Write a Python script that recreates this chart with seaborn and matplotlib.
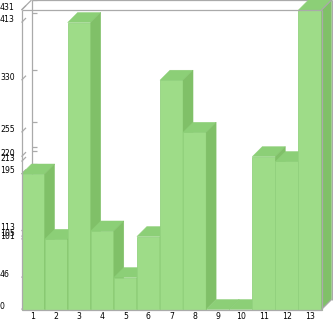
import matplotlib
matplotlib.use("Agg")
import matplotlib.pyplot as plt
import matplotlib.transforms as mtransforms
from matplotlib.patches import Polygon
import seaborn as sns
import pandas as pd

categories = ["1", "2", "3", "4", "5", "6", "7", "8", "9", "10", "11", "12", "13"]
values = [195, 101, 413, 113, 46, 105, 330, 255, 0, 0, 220, 213, 431]
ytick_values = [0, 46, 101, 105, 113, 195, 213, 220, 255, 330, 413, 431]

FRONT = "#9edc88"
TOP = "#8ccf77"
SIDE = "#80c068"
EDGE = "#93d27f"
FRAME = "#aaaaaa"

W, H = 333, 321
fig = plt.figure(figsize=(W / 100, H / 100), dpi=100)
fig.patch.set_facecolor("white")
ax = fig.add_axes([21.5 / W, 11.5 / H, 300 / W, 299.5 / H])

df = pd.DataFrame({"cat": categories, "val": values})
sns.barplot(data=df, x="cat", y="val", color=FRONT, saturation=1, width=1.0,
            edgecolor=EDGE, linewidth=0.6, ax=ax, zorder=3)
ax.set_xlim(-0.5, len(categories) - 0.5)
ax.set_ylim(0, max(ytick_values))
for s in ax.spines.values():
    s.set_visible(False)
ax.set_facecolor("none")
ax.set_xlabel("")
ax.set_ylabel("")
ax.set_yticks([])
ax.tick_params(axis="x", length=0, pad=1.8, labelsize=5.6, labelcolor="black")

# depth offset: 10 px right, 10 px up, expressed in data units
p0 = ax.transData.transform((0, 0))
p1 = ax.transData.inverted().transform((p0[0] + 10, p0[1] + 10))
ddx, ddy = p1[0], p1[1]

bars = list(ax.patches)
for i, b in enumerate(bars):
    x0 = b.get_x()
    x1 = x0 + b.get_width()
    h = b.get_height()
    z = 3 + i * 0.1
    b.set_zorder(z)
    b.set_clip_on(False)
    top = Polygon([(x0, h), (x1, h), (x1 + ddx, h + ddy), (x0 + ddx, h + ddy)],
                  closed=True, facecolor=TOP, edgecolor=TOP, linewidth=0.3,
                  zorder=z + 0.01, clip_on=False)
    side = Polygon([(x1, 0), (x1, h), (x1 + ddx, h + ddy), (x1 + ddx, ddy)],
                   closed=True, facecolor=SIDE, edgecolor=SIDE, linewidth=0.3,
                   zorder=z + 0.02, clip_on=False)
    ax.add_patch(top)
    ax.add_patch(side)

xa, xb = -0.5, len(categories) - 0.5
ya, yb = 0, max(ytick_values)
lw = 0.9

def line(xs, ys, z):
    ax.plot(xs, ys, color=FRAME, linewidth=lw, zorder=z, clip_on=False,
            solid_capstyle="butt")

# back wall lines (behind bars)
line([xa + ddx, xa + ddx], [ya + ddy, yb + ddy], 1)
line([xa + ddx, xb + ddx], [yb + ddy, yb + ddy], 1)
line([xa, xa + ddx], [yb, yb + ddy], 1)
# tick marks
px = ddx / 10.0
for v in ytick_values:
    line([xa, xa + ddx * 0.45], [v, v + ddy * 0.45], 1)
    line([xa + ddx, xa + ddx + 5 * px], [v + ddy, v + ddy], 1)
# front frame (over bars)
line([xa, xa], [ya, yb], 10)
line([xa, xb], [ya, ya], 10)
line([xa, xb], [yb, yb], 10)
line([xb, xb], [ya, yb], 10)
line([xb, xb + ddx], [ya, ya + ddy], 10)
line([xb, xb + ddx], [yb, yb + ddy], 10)
line([xb + ddx, xb + ddx], [ya + ddy, yb + ddy], 10)

# y tick labels, left aligned at the figure edge, a little above the front value
trans = mtransforms.blended_transform_factory(fig.transFigure, ax.transData) + \
    mtransforms.ScaledTranslation(0, 0.03, fig.dpi_scale_trans)
for v in ytick_values:
    ax.text(0.0, v, str(v), transform=trans, ha="left", va="center",
            fontsize=5.6, color="black", clip_on=False)

fig.savefig("out.png", dpi=100, facecolor="white")
